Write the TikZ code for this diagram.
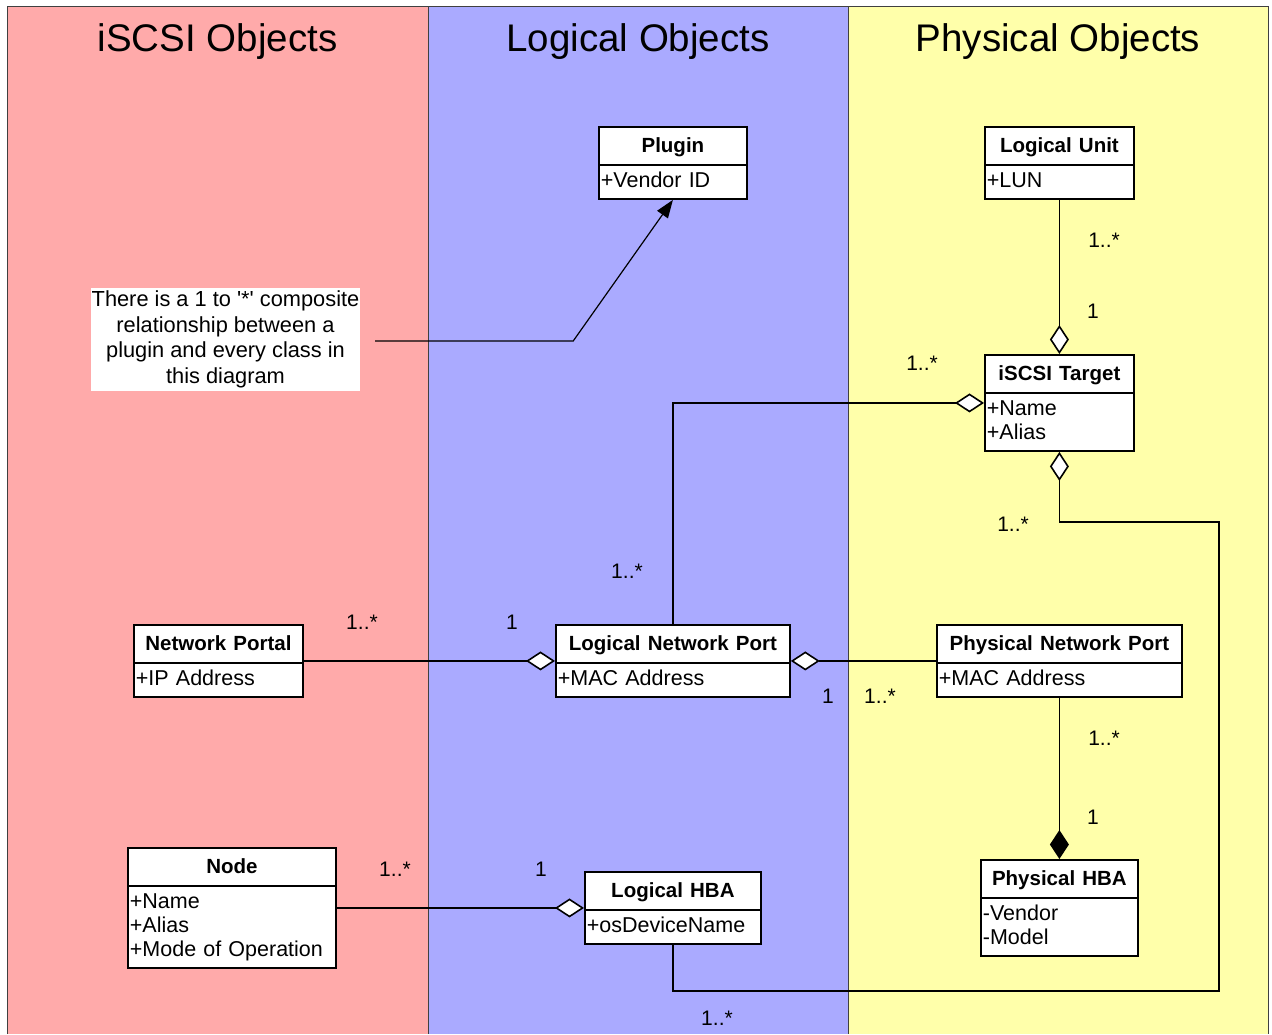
\documentclass[tikz,border=0pt]{standalone}
\usepackage{fontspec}
\setmainfont{Liberation Sans}
\usetikzlibrary{shapes.multipart,arrows.meta,positioning}
\setlength{\parindent}{0pt}

\definecolor{iscsipink}{HTML}{FFAAAA}
\definecolor{logicblue}{HTML}{AAAAFF}
\definecolor{physyellow}{HTML}{FFFFAA}

\newcommand{\hdstrut}{\rule[-7pt]{0pt}{27.5pt}}
\newcommand{\rowstrut}{\rule[-6.5pt]{0pt}{24pt}}
\newcommand{\clshead}[1]{\centering\hdstrut{\fontsize{20.5}{24}\selectfont\bfseries #1}\par}

\tikzset{
  umlclass/.style={draw, line width=1.8pt, fill=white, anchor=north west,
    rectangle split, rectangle split parts=2, text width=#1,
    inner xsep=2pt, inner ysep=4.25pt, font=\fontsize{21.5}{24}\selectfont},
  mult/.style={font=\fontsize{21}{24}\selectfont, inner sep=0pt},
  coltitle/.style={font=\fontsize{38.5}{44}\selectfont, anchor=base},
  frame/.style={line width=1pt, black!75},
  assoc/.style={line width=1.2pt},
  agg/.style={assoc, {Diamond[length=29pt, width=19pt, fill=white, line width=1.6pt]}-},
  comp/.style={assoc, {Diamond[length=29pt, width=19pt, line width=1.6pt]}-},
  noteline/.style={assoc, -{Triangle[length=18pt, width=13pt]}},
}

\begin{document}
\begin{tikzpicture}[x=1pt, y=-1pt]
	\useasboundingbox (0,0) rectangle (1272,1034);
	% columns
	\fill[iscsipink] (7,6) rectangle (428,1034);
	\fill[logicblue] (428,6) rectangle (848,1034);
	\fill[physyellow] (848,6) rectangle (1268,1034);
	\draw[frame] (7,1034) -- (7,6) -- (1268,6) -- (1268,1034);
	\draw[frame] (428,6) -- (428,1034) (848,6) -- (848,1034);
	\node[coltitle] (isctitle) at (217.5,51) {iSCSI Objects};
	\node[coltitle] (logtitle) at (638,51) {Logical Objects};
	\node[coltitle] (phytitle) at (1058,51) {Physical Objects};

	% classes
	\node[umlclass=144pt] (plugin) at (598,126) {\clshead{Plugin}\nodepart{two}\rowstrut+Vendor ID};
	\node[umlclass=145pt] (lu) at (984,126) {\clshead{Logical Unit}\nodepart{two}\rowstrut+LUN};
	\node[umlclass=145pt] (target) at (984,354) {\clshead{iSCSI Target}\nodepart{two}\rowstrut+Name\\\rowstrut+Alias};
	\node[umlclass=165pt] (portal) at (133,624) {\clshead{Network Portal}\nodepart{two}\rowstrut+IP Address};
	\node[umlclass=230pt] (lnp) at (555,624) {\clshead{Logical Network Port}\nodepart{two}\rowstrut+MAC Address};
	\node[umlclass=241pt] (pnp) at (936,624) {\clshead{Physical Network Port}\nodepart{two}\rowstrut+MAC Address};
	\node[umlclass=204pt] (inode) at (127,847) {\clshead{Node}\nodepart{two}\rowstrut+Name\\\rowstrut+Alias\\\rowstrut+Mode of Operation};
	\node[umlclass=172pt] (lhba) at (584,871) {\clshead{Logical HBA}\nodepart{two}\rowstrut+osDeviceName};
	\node[umlclass=153pt] (phba) at (980,859) {\clshead{Physical HBA}\nodepart{two}\rowstrut-Vendor\\\rowstrut-Model};

	% note
	\node[fill=white, inner sep=0pt, minimum width=269pt, minimum height=103pt, align=center,
		font=\fontsize{21.8}{25.6}\selectfont] (note) at (225.5,339.5)
		{There is a 1 to \textquotesingle*\textquotesingle{} composite\\relationship between a\\plugin and every class in\\this diagram};
	\coordinate (notetail) at ([xshift=15pt, yshift=-1.5pt]note.east);
	\draw[noteline] (notetail) -- ++(198,0) -- (plugin.south);

	% associations
	\draw[agg] (target.north) -- (lu.south);
	\draw[agg] (target.west) -| (lnp.north);
	\draw[agg] (target.south) |- (1219,522) -- (1219,991) -| (lhba.south);
	\draw[agg] (lnp.west) -- (portal.east);
	\draw[agg] (lnp.east) -- (pnp.west);
	\draw[comp] (phba.north) -- (pnp.south);
	\draw[agg] (lhba.west) -- (inode.east);

	% multiplicities
	\node[mult] (m1) at (1104,240) {1..*};
	\node[mult] (m2) at (1093,311) {1};
	\node[mult] (m3) at (922,363) {1..*};
	\node[mult] (m4) at (627,571) {1..*};
	\node[mult] (m5) at (1013,524) {1..*};
	\node[mult] (m6) at (362,622) {1..*};
	\node[mult] (m7) at (512,622) {1};
	\node[mult] (m8) at (828,696) {1};
	\node[mult] (m9) at (880,696) {1..*};
	\node[mult] (m10) at (1104,738) {1..*};
	\node[mult] (m11) at (1093,817) {1};
	\node[mult] (m12) at (395,869) {1..*};
	\node[mult] (m13) at (541,869) {1};
	\node[mult] (m14) at (717,1018) {1..*};
\end{tikzpicture}
\end{document}
